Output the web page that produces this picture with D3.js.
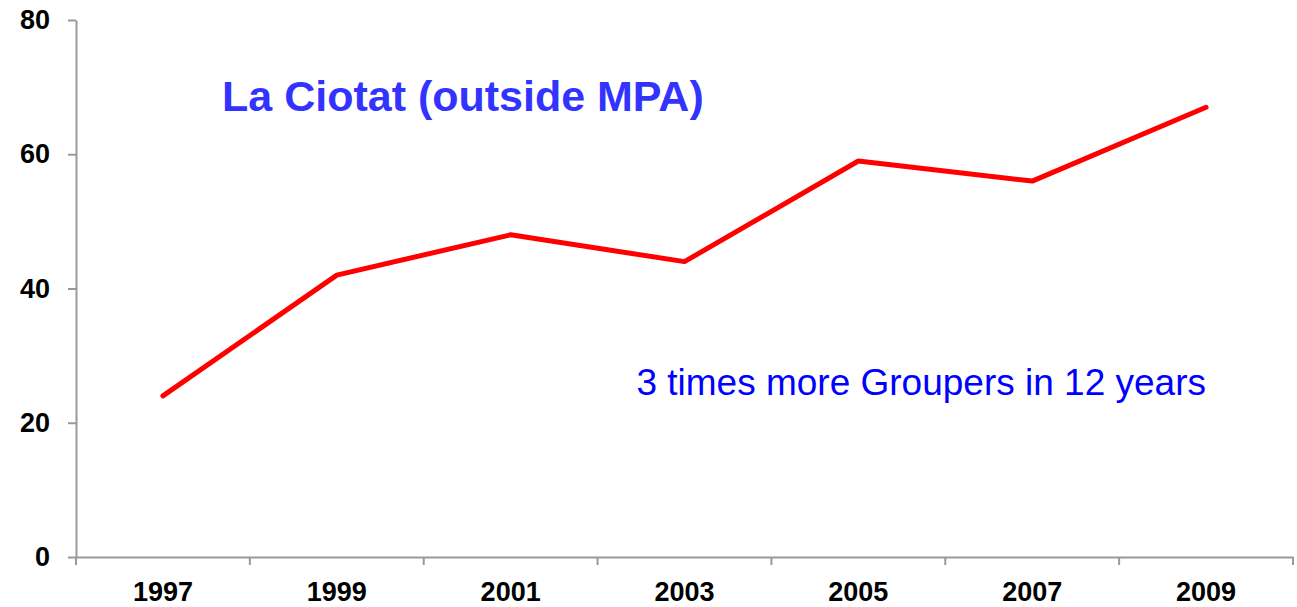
<!DOCTYPE html>
<html>
<head>
<meta charset="utf-8">
<title>La Ciotat groupers</title>
<script src="https://cdn.jsdelivr.net/npm/d3@7"></script>
<style>
  body { margin: 0; background: #fff; }
  text { font-family: Arial, "Liberation Sans", sans-serif; }
</style>
</head>
<body>
<div id="chart"></div>
<script>
// data
var years = ["1997", "1999", "2001", "2003", "2005", "2007", "2009"];
var groupers = [24, 42, 48, 44, 59, 56, 67];
var yTicks = [0, 20, 40, 60, 80];

var w = 1297, h = 607;
var margin = {top: 20, right: 4, bottom: 50, left: 76};

var svg = d3.select("#chart").append("svg")
    .attr("width", w)
    .attr("height", h);

var x = d3.scaleBand()
    .domain(years)
    .range([margin.left, w - margin.right]);

var y = d3.scaleLinear()
    .domain([0, 80])
    .range([h - margin.bottom, margin.top]);

// y axis
var yAxis = svg.append("g")
    .attr("transform", "translate(" + margin.left + ",0)")
    .call(d3.axisLeft(y).tickValues(yTicks).tickSize(8).tickPadding(18).tickSizeOuter(0));

// x axis
var xAxis = svg.append("g")
    .attr("transform", "translate(0," + (h - margin.bottom) + ")")
    .call(d3.axisBottom(x).tickSize(0).tickPadding(25).tickSizeOuter(0));

// category boundary ticks
var bounds = years.map(function(d) { return x(d); }).concat([x.range()[1]]);
xAxis.selectAll(".bound")
    .data(bounds)
    .enter().append("line")
    .attr("class", "bound")
    .attr("x1", function(d) { return d; })
    .attr("x2", function(d) { return d; })
    .attr("y1", 0)
    .attr("y2", 8);

[yAxis, xAxis].forEach(function(g) {
    g.selectAll("path.domain").attr("stroke", "#999").attr("stroke-width", 2);
    g.selectAll("line").attr("stroke", "#999").attr("stroke-width", 2);
    g.selectAll("text")
        .attr("font-size", "27px")
        .attr("font-weight", "bold")
        .attr("fill", "#000")
        .style("font-family", "Arial, 'Liberation Sans', sans-serif");
});
xAxis.selectAll(".tick text").attr("dy", "0.71em");

// the line
var line = d3.line()
    .x(function(d, i) { return x(years[i]) + x.bandwidth() / 2; })
    .y(function(d) { return y(d); });

svg.append("path")
    .attr("d", line(groupers))
    .attr("fill", "none")
    .attr("stroke", "#ff0000")
    .attr("stroke-width", 5)
    .attr("stroke-linecap", "round")
    .attr("stroke-linejoin", "round");

// title and note
svg.append("text")
    .attr("x", 222)
    .attr("y", 111)
    .attr("font-size", "43px")
    .attr("font-weight", "bold")
    .attr("fill", "#3333ff")
    .text("La Ciotat (outside MPA)");

svg.append("text")
    .attr("x", 1206)
    .attr("y", 395)
    .attr("text-anchor", "end")
    .attr("font-size", "37px")
    .attr("fill", "#0000ff")
    .text("3 times more Groupers in 12 years");
</script>
</body>
</html>
